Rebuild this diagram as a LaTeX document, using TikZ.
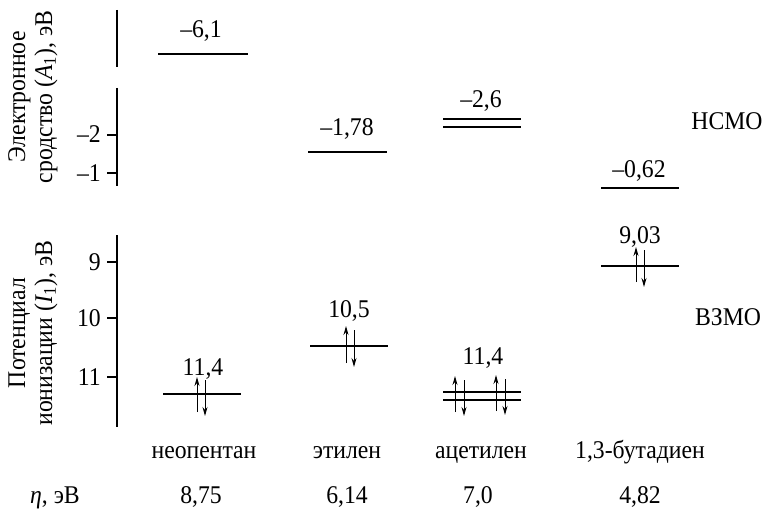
\documentclass[tikz,border=0pt]{standalone}
\usepackage{fontspec}
\setmainfont{Liberation Serif}[FakeStretch=0.93]
\usetikzlibrary{arrows.meta}
\begin{document}
\begin{tikzpicture}[x=1pt,y=-1pt,
  lvl/.style={line width=1.5pt},
  ax/.style={line width=1.2pt},
  spin/.style={line width=1pt,-{Stealth[length=9pt,width=5pt]}},
  txt/.style={font=\fontsize{25.5}{29}\selectfont, inner sep=0pt, anchor=base},
  tick/.style={font=\fontsize{25.5}{29}\selectfont, inner sep=0pt, anchor=base east},
  ylab/.style={font=\fontsize{25.5}{27}\selectfont, inner sep=0pt, align=center, rotate=90},
]
\useasboundingbox (0,0) rectangle (767,508);

% axes
\coordinate (a1) at (117,10);  \coordinate (a2) at (117,67);
\coordinate (a3) at (117,88);  \coordinate (a4) at (117,186);
\coordinate (b1) at (117,235); \coordinate (b2) at (117,427);
\draw[ax] (a1) -- (a2);
\draw[ax] (a3) -- (a4);
\draw[ax] (b1) -- (b2);
% ticks
\draw[ax] (107,135) -- (117,135);
\draw[ax] (107,173) -- (117,173);
\draw[ax] (107,262) -- (117,262);
\draw[ax] (107,318) -- (117,318);
\draw[ax] (107,377) -- (117,377);
\node[tick] (tm2) at (101,142) {–2};
\node[tick] (tm1) at (101,181) {–1};
\node[tick] (t9)  at (101,270) {9};
\node[tick] (t10) at (101,326) {10};
\node[tick] (t11) at (101,385) {11};

% axis titles
\node[ylab] (ytop) at (33,97) {Электронное\\сродство (\textit{A}\textsubscript{1}), эВ};
\node[ylab] (ybot) at (33,333) {Потенциал\\ионизации (\textit{I}\textsubscript{1}), эВ};

% neopentane
\draw[lvl] (158,54) -- (248,54);
\node[txt] (l1) at (201,38) {–6,1};
\draw[lvl] (163,394) -- (241,394);
\node[txt] (h1) at (203,375) {11,4};
\draw[spin] (197,412) -- (197,377);
\draw[spin] (205,380) -- (205,416);

% ethylene
\draw[lvl] (308,152) -- (387,152);
\node[txt] (l2) at (347,135) {–1,78};
\draw[lvl] (310,346) -- (388,346);
\node[txt] (h2) at (349,317) {10,5};
\draw[spin] (346,363) -- (346,326);
\draw[spin] (354,330) -- (354,367);

% acetylene
\draw[lvl] (443,119) -- (521,119);
\draw[lvl] (443,127) -- (521,127);
\node[txt] (l3) at (481,107) {–2,6};
\draw[lvl] (443,392) -- (521,392);
\draw[lvl] (443,400) -- (521,400);
\node[txt] (h3) at (483,364) {11,4};
\draw[spin] (455,412) -- (455,376);
\draw[spin] (464,380) -- (464,416);
\draw[spin] (496,411) -- (496,375);
\draw[spin] (505,379) -- (505,415);

% butadiene
\draw[lvl] (601,188) -- (679,188);
\node[txt] (l4) at (639,177) {–0,62};
\draw[lvl] (601,266) -- (679,266);
\node[txt] (h4) at (640,243) {9,03};
\draw[spin] (636,282) -- (636,247);
\draw[spin] (644,250) -- (644,287);

% side labels
\node[txt] (lumo) at (727,129) {НСМО};
\node[txt] (homo) at (728,325) {ВЗМО};

% names
\node[txt] (n1) at (204,458) {неопентан};
\node[txt] (n2) at (347,458) {этилен};
\node[txt] (n3) at (481,458) {ацетилен};
\node[txt] (n4) at (640,458) {1,3-бутадиен};

% hardness
\node[txt] (eta) at (55,503) {\textit{η}, эВ};
\node[txt] (e1) at (201,503) {8,75};
\node[txt] (e2) at (347,503) {6,14};
\node[txt] (e3) at (478,503) {7,0};
\node[txt] (e4) at (640,503) {4,82};
\end{tikzpicture}
\end{document}
